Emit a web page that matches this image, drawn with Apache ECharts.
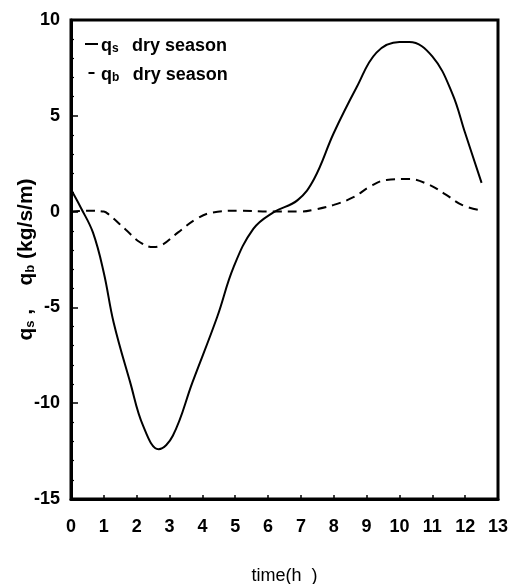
<!DOCTYPE html>
<html>
<head>
<meta charset="utf-8">
<script src="https://cdn.jsdelivr.net/npm/echarts@6/dist/echarts.min.js"></script>
<style>
html,body{margin:0;padding:0;background:#fff;}
#chart{width:526px;height:584px;}
</style>
</head>
<body>
<div id="chart"></div>
<script>
// time (h) and values
const qsTime = [0, 0.3, 0.67, 1.0, 1.3, 1.8, 2.2, 2.67, 3.1, 3.7, 4.45, 4.95, 5.55, 6.15, 6.9, 7.4, 8.0, 8.7, 9.3, 10.0, 10.3, 11.0, 11.6, 12.0, 12.5];
const qsValues = [1.15, 0.2, -1.1, -3.2, -5.8, -8.9, -11.2, -12.4, -11.7, -8.9, -5.5, -2.9, -0.9, -0.05, 0.6, 1.7, 4.1, 6.5, 8.3, 8.85, 8.85, 8.1, 6.2, 4.1, 1.5];
const qbTime = [0, 0.5, 1.0, 1.15, 1.67, 2.1, 2.5, 2.7, 3.25, 3.8, 4.3, 5.15, 6.15, 7.0, 7.4, 8.0, 8.6, 9.1, 9.6, 10.3, 10.9, 11.4, 11.9, 12.5];
const qbValues = [0, 0.05, 0, -0.15, -0.95, -1.6, -1.85, -1.8, -1.1, -0.4, -0.05, 0.05, 0, 0, 0.1, 0.35, 0.75, 1.3, 1.65, 1.7, 1.4, 0.9, 0.35, 0.05];
const xTicks = [0,1,2,3,4,5,6,7,8,9,10,11,12,13];
const yTicks = [-15,-10,-5,0,5,10];

const FONT = '"Liberation Sans", Arial, sans-serif';
const chart = echarts.init(document.getElementById('chart'), null, {renderer:'canvas'});
const pair = (xs, ys) => xs.map((x, i) => [x, ys[i]]);

chart.setOption({
  animation: false,
  backgroundColor: '#fff',
  grid: {left: 71, right: 28, top: 20, bottom: 85, outerBoundsMode: 'none', containLabel: false,
         show: true, borderColor: '#000', borderWidth: 3, backgroundColor: 'transparent'},
  legend: {
    left: 80, top: 32, orient: 'vertical', itemGap: 11, itemWidth: 13, itemHeight: 2,
    data: [
      {name: 'qs', icon: 'rect'},
      {name: 'qb', icon: 'path://M8,0H14V2H8Z'}
    ],
    formatter: function (name) {
      return name === 'qs' ? '{q|q}{sub|s}    {t|dry season}' : '{q|q}{sub|b}    {t|dry season}';
    },
    textStyle: {
      fontFamily: FONT, color: '#000', padding: [0, 0, 0, -2],
      rich: {
        q: {fontSize: 18, fontWeight: 'bold', fontFamily: FONT, color: '#000', verticalAlign: 'bottom', lineHeight: 22},
        sub: {fontSize: 12, fontWeight: 'bold', fontFamily: FONT, color: '#000', verticalAlign: 'bottom', lineHeight: 14},
        t: {fontSize: 18, fontWeight: 'bold', fontFamily: FONT, color: '#000', verticalAlign: 'bottom', lineHeight: 22}
      }
    }
  },
  xAxis: {
    type: 'value', min: 0, max: 13, interval: 1,
    name: 'time(h  )', nameLocation: 'middle', nameGap: 68, nameMoveOverlap: false,
    nameTextStyle: {fontFamily: FONT, fontSize: 18, color: '#000'},
    axisLine: {show: true, onZero: false, lineStyle: {color: '#000', width: 3}},
    axisTick: {show: true, inside: true, length: 4, lineStyle: {color: '#000', width: 1.5}},
    splitLine: {show: false},
    axisLabel: {margin: 19, fontFamily: FONT, fontSize: 18, fontWeight: 'bold', color: '#000',
      formatter: v => xTicks.includes(v) ? String(v) : ''}
  },
  yAxis: {
    type: 'value', min: -15, max: 10, interval: 5,
    name: '{q|q}{sub|s}{q| ,    q}{sub|b}{q| (kg/s/m)}', nameLocation: 'middle', nameGap: 34, nameRotate: 90,
    nameMoveOverlap: false,
    nameTextStyle: {fontFamily: FONT, color: '#000',
      rich: {
        q: {fontSize: 21, fontWeight: 'bold', fontFamily: FONT, color: '#000', verticalAlign: 'bottom', lineHeight: 24},
        sub: {fontSize: 13, fontWeight: 'bold', fontFamily: FONT, color: '#000', verticalAlign: 'bottom', lineHeight: 14}
      }},
    axisLine: {show: true, onZero: false, lineStyle: {color: '#000', width: 3}},
    axisTick: {show: true, inside: true, length: 7, lineStyle: {color: '#000', width: 1.5}},
    minorTick: {show: true, splitNumber: 5, length: 3, lineStyle: {color: '#000', width: 1.2}},
    splitLine: {show: false},
    axisLabel: {margin: 11, fontFamily: FONT, fontSize: 18, fontWeight: 'bold', color: '#000',
      formatter: v => yTicks.includes(v) ? String(v) : ''}
  },
  series: [
    {name: 'qs', type: 'line', smooth: 0.4, symbol: 'none', data: pair(qsTime, qsValues),
     lineStyle: {color: '#000', width: 2}, itemStyle: {color: '#000'}},
    {name: 'qb', type: 'line', smooth: 0.4, symbol: 'none', data: pair(qbTime, qbValues),
     lineStyle: {color: '#000', width: 2, type: [9, 6]}, itemStyle: {color: '#000'}}
  ]
});
</script>
</body>
</html>
